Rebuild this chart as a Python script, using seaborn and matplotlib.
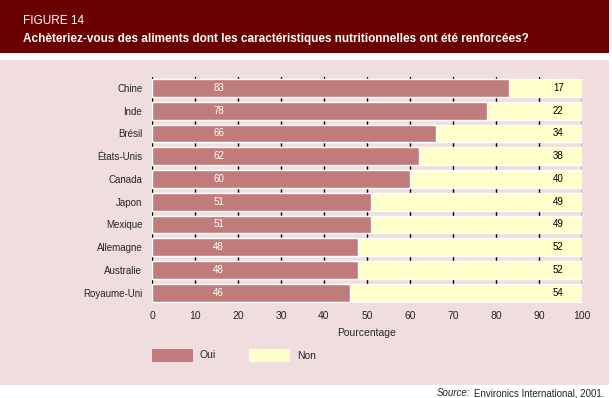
import matplotlib
matplotlib.use("Agg")
import matplotlib.pyplot as plt
import seaborn as sns
import pandas as pd
from matplotlib.patches import Rectangle

countries = ["Chine", "Inde", "Brésil", "États-Unis", "Canada", "Japon",
             "Mexique", "Allemagne", "Australie", "Royaume-Uni"]
oui = [83, 78, 66, 62, 60, 51, 51, 48, 48, 46]
non = [17, 22, 34, 38, 40, 49, 49, 52, 52, 54]
xticks = [0, 10, 20, 30, 40, 50, 60, 70, 80, 90, 100]

col_oui = "#C07B7B"
col_non = "#FFFFCC"
col_bg = "#F0DEDE"
col_head = "#6B0000"

sns.set_theme(style="white")
plt.rcParams["font.family"] = ["Liberation Sans", "DejaVu Sans"]

df = pd.DataFrame({"pays": countries, "oui": oui, "non": non})
df["total"] = df["oui"] + df["non"]

fig = plt.figure(figsize=(6.12, 3.98), dpi=100)
W, H = 612, 398
fig.patches.append(Rectangle((0, 1 - 53 / H), 609 / W, 53 / H, transform=fig.transFigure,
                             facecolor=col_head, edgecolor="none", zorder=-10))
fig.patches.append(Rectangle((0, 1 - 385 / H), 609 / W, (385 - 60) / H, transform=fig.transFigure,
                             facecolor=col_bg, edgecolor="none", zorder=-10))

fig.text(23 / W, 1 - 21 / H, "FIGURE 14", color="white", fontsize=8.5, va="center", ha="left")
fig.text(23 / W, 1 - 39 / H,
         "Achèteriez-vous des aliments dont les caractéristiques nutritionnelles ont été renforcées?",
         color="white", fontsize=8.5, fontweight="bold", va="center", ha="left")

ax = fig.add_axes([152 / W, 1 - 303 / H, 430 / W, 226 / H])
ax.set_zorder(1)
ax.set_facecolor("none")
ax.patch.set_alpha(0)

sns.barplot(data=df, x="total", y="pays", orient="h", color=col_non, width=0.78,
            saturation=1, ax=ax, zorder=2)
sns.barplot(data=df, x="oui", y="pays", orient="h", color=col_oui, width=0.78,
            saturation=1, ax=ax, zorder=3)

for i, (o, n) in enumerate(zip(oui, non)):
    ax.text(15.5, i, str(o), color="white", fontsize=7, ha="center", va="center", zorder=4)
    ax.text(94.5, i, str(n), color="black", fontsize=7, ha="center", va="center", zorder=4)

ax.set_xlim(0, 100)
ax.set_ylim(9.45, -0.48)
ax.set_xticks(xticks)
ax.set_xticklabels([str(t) for t in xticks], fontsize=7.5)
ax.tick_params(axis="y", labelsize=7, length=0, pad=7)
ax.tick_params(axis="x", length=0, pad=6)
ax.set_axisbelow(True)
ax.xaxis.grid(True, color="black", linewidth=1.0, zorder=1)
ax.yaxis.grid(False)
for s in ax.spines.values():
    s.set_visible(False)
ax.set_ylabel("")
ax.set_xlabel("Pourcentage", fontsize=7.5, labelpad=5)

# legend
fig.patches.append(Rectangle((152 / W, 1 - 362 / H), 41 / W, 13 / H, transform=fig.transFigure,
                             facecolor=col_oui, edgecolor="none"))
fig.patches.append(Rectangle((249 / W, 1 - 362 / H), 41 / W, 13 / H, transform=fig.transFigure,
                             facecolor=col_non, edgecolor="none"))
fig.text(200 / W, 1 - 355 / H, "Oui", fontsize=7.5, va="center", ha="left")
fig.text(297 / W, 1 - 356 / H, "Non", fontsize=7.5, va="center", ha="left")

src = fig.text(604 / W, 1 - 396 / H, "Environics International, 2001.", fontsize=7,
               va="baseline", ha="right")
fig.canvas.draw()
bb = src.get_window_extent(renderer=fig.canvas.get_renderer())
fig.text((bb.x0 - 3) / W, 1 - 396 / H, "Source:", fontsize=7, style="italic",
         va="baseline", ha="right")

fig.savefig("out.png", dpi=100)
